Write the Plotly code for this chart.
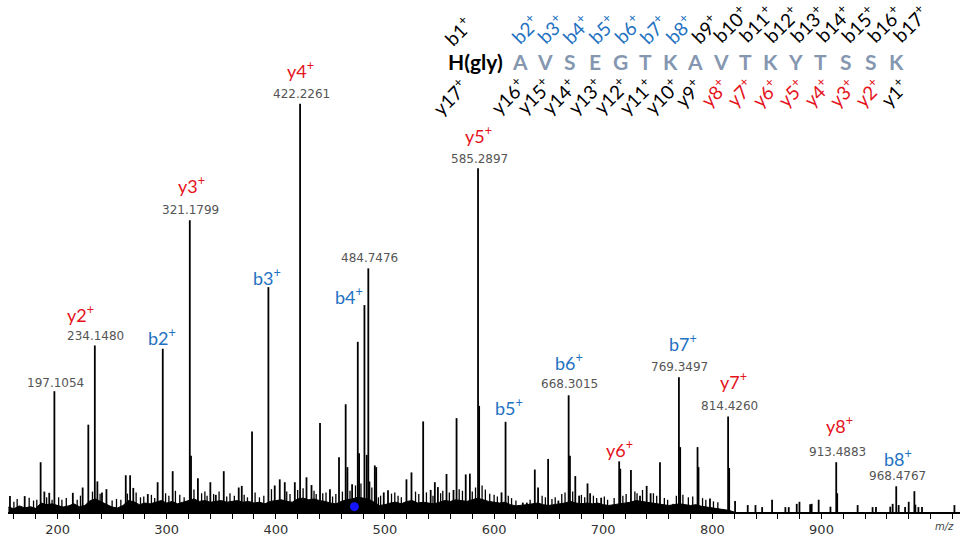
import plotly.graph_objects as go

# labelled fragment peaks (m/z, relative intensity %)
main_mz = [197.1054, 234.1480, 296.4, 321.1799, 393.2, 422.2261, 475.1, 481.2,
           484.7476, 585.2897, 610.5, 668.3015, 714.6, 769.3497, 814.4260,
           913.4883, 968.4767]
main_int = [29.6, 40.8, 40.0, 71.5, 55.1, 100.0, 41.7, 50.7,
            59.7, 84.2, 22.1, 28.6, 12.4, 33.0, 23.4,
            12.2, 6.3]

# smaller peaks
minor_mz = [156.4, 169.9, 184.5, 187.9, 192.4, 214.0, 223.0, 228.2, 236.5, 240.7,
            244.8, 262.5, 266.5, 269.4, 282.7, 291.7, 305.5, 322.3, 328.6, 340.0,
            345.0, 352.3, 366.0, 368.8, 378.2, 399.0, 403.6, 408.2, 417.4, 428.1,
            432.7, 440.5, 449.6, 457.9, 464.0, 465.6, 469.9, 476.3, 483.3, 490.7,
            492.0, 498.9, 502.8, 519.7, 524.3, 535.0, 541.9, 545.7, 548.5, 556.4,
            562.8, 565.6, 574.0, 577.8, 586.3, 606.8, 626.3, 630.0, 637.3, 640.3,
            649.5, 658.9, 669.5, 674.4, 677.9, 685.6, 688.0, 698.1, 715.6, 725.4,
            733.7, 739.8, 743.4, 752.0, 764.2, 770.5, 786.4, 787.3, 797.8, 815.4,
            820.8, 832.4, 839.5, 845.6, 854.7, 866.9, 870.0, 877.3, 879.8, 889.6,
            891.0, 897.4, 908.2, 914.4, 933.1, 946.8, 949.9, 963.0, 965.2, 970.7,
            976.6, 979.9, 985.1, 986.0, 988.8, 992.1, 1021.8]
minor_int = [3.9, 3.9, 12.2, 5.0, 4.7, 4.7, 6.0, 21.4, 7.5, 4.8,
             5.6, 9.0, 9.0, 5.9, 4.4, 7.3, 10.0, 13.8, 8.3, 7.3,
             4.2, 10.0, 6.0, 6.4, 19.7, 6.5, 8.0, 7.3, 7.3, 8.5,
             6.6, 21.8, 5.6, 13.4, 26.4, 11.0, 6.8, 14.4, 14.0, 11.4,
             11.0, 4.8, 5.3, 8.0, 9.7, 22.2, 5.4, 7.3, 6.1, 9.3,
             5.4, 23.0, 9.2, 9.4, 26.0, 4.8, 2.3, 2.3, 10.4, 6.0,
             13.0, 2.8, 13.8, 8.8, 4.0, 7.0, 4.6, 3.5, 10.6, 10.3,
             4.0, 6.4, 4.6, 12.2, 2.0, 15.9, 15.9, 11.0, 3.3, 10.8,
             2.7, 1.7, 1.7, 1.2, 3.0, 1.2, 1.2, 2.0, 2.5, 1.9,
             2.0, 3.0, 1.3, 4.6, 1.7, 1.2, 1.2, 1.3, 2.0, 1.7,
             1.2, 2.5, 5.1, 1.8, 1.2, 1.2, 1.7]

# low "grass" sticks in the crowded 155-805 region
grass_mz = [160, 163, 174, 178, 181, 190, 195, 201, 204, 208, 218, 221, 232, 239,
            250, 254, 258, 264, 272, 276, 279, 286, 289, 299, 302, 308, 312, 316,
            325, 332, 335, 337, 343, 348, 355, 358, 362, 371, 374, 381, 385, 389,
            396, 410, 413, 420, 425, 435, 437, 443, 446, 452, 455, 461, 468, 473,
            478, 486, 488, 494, 496, 506, 509, 512, 515, 528, 531, 538, 544, 551,
            553, 559, 568, 571, 580, 583, 589, 592, 596, 600, 603, 613, 616, 620,
            633, 644, 647, 653, 656, 662, 665, 672, 680, 683, 691, 694, 701, 704,
            710, 718, 721, 729, 731, 736, 746, 749, 756, 759, 767, 773, 778, 782,
            791, 794, 801, 805]
grass_int = [2.5, 3.2, 3.5, 2.8, 3.0, 3.6, 3.0, 3.6, 3.0, 3.4, 3.0, 4.0, 5.0, 4.5,
             2.8, 3.2, 3.0, 4.5, 4.8, 3.6, 3.8, 4.2, 3.4, 4.6, 4.0, 5.2, 4.2, 3.6,
             5.5, 4.6, 5.0, 4.0, 4.4, 5.0, 3.8, 4.6, 4.0, 4.2, 3.6, 4.8, 3.6, 4.0,
             5.6, 5.0, 4.4, 5.4, 5.8, 5.2, 4.4, 4.6, 4.8, 3.8, 4.4, 5.0, 5.2, 6.5,
             7.0, 7.5, 6.0, 3.6, 4.0, 4.5, 4.8, 4.0, 3.6, 5.0, 4.4, 4.8, 4.0, 4.6,
             5.2, 4.8, 5.6, 5.2, 5.0, 6.0, 6.5, 5.5, 4.5, 4.2, 3.8, 4.0, 3.4, 2.8,
             3.0, 4.0, 3.6, 3.2, 3.6, 4.4, 4.8, 5.0, 4.2, 3.6, 4.0, 3.4, 3.8, 3.0,
             3.4, 4.0, 4.4, 5.0, 4.6, 5.4, 4.6, 4.0, 3.4, 3.0, 4.0, 4.2, 3.6, 3.8,
             3.4, 3.0, 2.6, 2.4]

# dense chemical noise floor (envelope height every 5 m/z)
noise_mz = list(range(155, 825, 5))
noise_int = [1.2, 0.8, 1.5, 1.0, 1.3, 0.9, 2.2, 1.8, 2.0, 1.6,
             1.2, 1.5, 2.0, 1.3, 1.6, 2.8, 3.2, 2.5, 1.8, 1.2,
             1.0, 1.6, 2.8, 2.5, 1.8, 2.2, 2.0, 2.4, 2.8, 2.2,
             2.6, 2.0, 2.4, 2.8, 3.2, 2.6, 2.8, 2.4, 2.6, 2.8,
             2.4, 2.6, 2.8, 2.4, 2.6, 2.2, 2.4, 2.0, 2.6, 2.8,
             3.0, 2.6, 2.4, 3.2, 3.4, 3.0, 3.2, 2.8, 2.6, 2.2,
             2.0, 2.6, 3.0, 3.2, 3.6, 3.4, 3.2, 2.4, 1.6, 1.8,
             2.2, 2.4, 2.0, 2.6, 2.8, 2.2, 2.4, 2.2, 2.0, 2.4,
             2.8, 2.6, 3.0, 2.8, 2.6, 3.0, 3.4, 3.0, 2.6, 2.4,
             2.2, 2.4, 1.8, 1.5, 1.6, 1.8, 2.0, 2.2, 1.8, 1.6,
             1.8, 2.0, 2.2, 2.6, 2.2, 2.0, 2.2, 2.0, 2.2, 1.8,
             1.6, 1.8, 2.0, 2.2, 2.4, 2.8, 2.6, 2.4, 2.2, 2.0,
             1.8, 1.6, 1.8, 2.0, 1.8, 1.6, 1.8, 1.4, 1.2, 1.0,
             0.8, 0.6, 0.4, 0.0]

precursor_mz = [472.0]
precursor_int = [1.3]

# annotated peaks: (peak index, ion label, colour key, show m/z, dx, dy, m/z dy)
ion_peaks = [
    (0, None, None, True, 1, 0, -8),
    (1, "y2", "y", True, -14, -31, -9),
    (2, "b2", "b", False, -1, -12, 0),
    (3, "y3", "y", True, 2, -35, -10),
    (4, "b3", "b", False, -1, -10, 0),
    (5, "y4", "y", True, 0, -34, -10),
    (7, "b4", "b", False, -15, -9, 0),
    (8, None, None, True, 0, 0, -10),
    (9, "y5", "y", True, 0, -33, -9),
    (10, "b5", "b", False, 3, -15, 0),
    (11, "b6", "b", True, 0, -33, -11),
    (12, "y6", "y", False, 0, -12, 0),
    (13, "b7", "b", True, 4, -34, -10),
    (14, "y7", "y", True, 5, -36, -11),
    (15, "y8", "y", True, 3, -37, -10),
    (16, "b8", "b", True, 2, -28, -10),
]

sequence = list("AVSEGTKAVTKYTSSK")
b_blue = [2, 3, 4, 5, 6, 7, 8]
y_red = [2, 3, 4, 5, 6, 7, 8]

COL = {"b": "#2371c2", "y": "#e5121b"}
SEQ_GRAY = "#8597b0"

# plot area in window pixels: x 8..960, y 10..518 (page body margin removed below)
def px(x):
    return (x - 8) / 952.0

def py(y):
    return (518 - y) / 508.0

def paper_text(x, y, text, size, color, angle=0, family="Lato"):
    return dict(x=px(x), y=py(y), xref="paper", yref="paper", text=text,
                textangle=angle, showarrow=False, xanchor="center", yanchor="middle",
                font=dict(family=family, size=size, color=color))

fig = go.Figure()

fig.add_trace(go.Scatter(
    x=noise_mz, y=noise_int, mode="lines", fill="tozeroy",
    line=dict(color="black", width=1), fillcolor="black",
    hoverinfo="skip", showlegend=False))

gx, gy = [], []
for m, h in zip(grass_mz, grass_int):
    gx += [m, m, None]
    gy += [0, h, None]
fig.add_trace(go.Scatter(
    x=gx, y=gy, mode="lines", line=dict(color="black", width=1.3),
    hoverinfo="skip", showlegend=False))

stick_x, stick_y = [], []
for m, h in zip(minor_mz + main_mz, minor_int + main_int):
    stick_x += [m, m, None]
    stick_y += [0, h, None]
fig.add_trace(go.Scatter(
    x=stick_x, y=stick_y, mode="lines",
    line=dict(color="black", width=1.8),
    hoverinfo="skip", showlegend=False))

fig.add_trace(go.Scatter(
    x=precursor_mz, y=precursor_int, mode="markers",
    marker=dict(color="#1515ff", size=9, symbol="circle"),
    hoverinfo="skip", showlegend=False))

ann = []
for idx, ion, ck, show_mz, dx, dy, mdy in ion_peaks:
    m, h = main_mz[idx], main_int[idx]
    if show_mz:
        ann.append(dict(x=m, y=h, xref="x", yref="y", text=f"{m:.4f}",
                        showarrow=False, xanchor="center", yanchor="middle",
                        yshift=-mdy, xshift=1,
                        font=dict(family="DejaVu Sans", size=12, color="#555555")))
    if ion:
        ann.append(dict(x=m, y=h, xref="x", yref="y",
                        text=f"{ion}<sup>+</sup>", showarrow=False,
                        xanchor="center", yanchor="middle",
                        xshift=dx, yshift=-dy,
                        font=dict(family="Lato", size=18, color=COL[ck])))

# sequence panel
ann.append(paper_text(475, 62, "<b>H(gly)</b>", 21, "black"))
for i, aa in enumerate(sequence):
    ann.append(paper_text(520 + i * 25.07, 62, f"<b>{aa}</b>", 21, SEQ_GRAY))

for n in range(1, 18):
    if n == 1:
        bx, by = 458, 31
    else:
        bx = 525 + (n - 2) * 25.67
        by = 29 if n < 10 else 24
    ann.append(paper_text(bx, by, f"b{n}<sup>+</sup>", 19,
                          COL["b"] if n in b_blue else "black", angle=-45))
for n in range(1, 18):
    if n == 17:
        yx, yy = 450, 98
    else:
        yx = 508 + (16 - n) * 25.67
        yy = 97 if n >= 10 else 93
    ann.append(paper_text(yx, yy, f"y{n}<sup>+</sup>", 19,
                          COL["y"] if n in y_red else "black", angle=-45))

ann.append(paper_text(944, 533, "<i>m/z</i>", 10, "#444444", family="DejaVu Sans"))

fig.update_layout(
    width=969, height=545,
    margin=dict(l=8, r=9, t=10, b=27),
    paper_bgcolor="white", plot_bgcolor="white",
    showlegend=False,
    hovermode=False,
    annotations=ann,
    xaxis=dict(range=[154.6, 1026.9], showgrid=False, zeroline=False,
               showline=True, linecolor="black", linewidth=1.5,
               tickmode="array", tickvals=[200, 300, 400, 500, 600, 700, 800, 900],
               ticks="outside", ticklen=5, tickcolor="black", tickwidth=1.2,
               tickfont=dict(family="DejaVu Sans", size=13, color="#333333"),
               minor=dict(tickmode="linear", tick0=0, dtick=20, ticks="outside",
                          ticklen=5, tickcolor="black", tickwidth=1.2)),
    yaxis=dict(range=[0, 123], visible=False, showgrid=False, zeroline=False),
)

fig.write_html("out.html", config={"displayModeBar": False},
               post_script="document.body.style.margin = '0px';")
